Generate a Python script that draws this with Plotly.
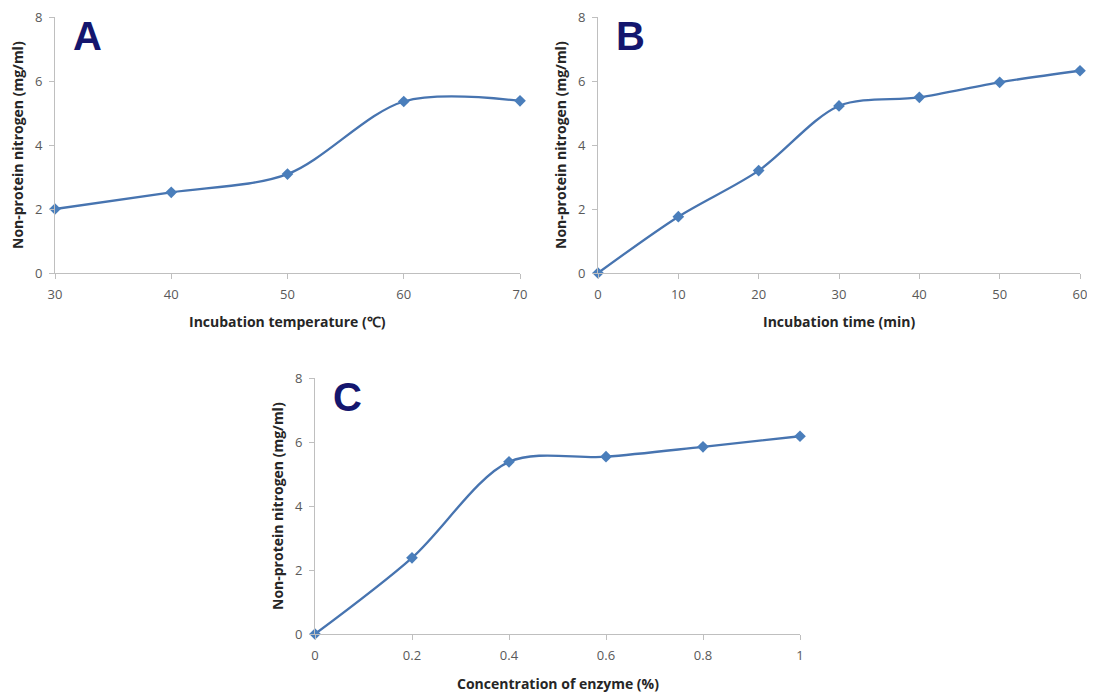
import plotly.graph_objects as go

# Panel A: incubation temperature
temp_c = [30, 40, 50, 60, 70]
npn_temp = [2.0, 2.52, 3.09, 5.36, 5.38]

# Panel B: incubation time
time_min = [0, 10, 20, 30, 40, 50, 60]
npn_time = [0.0, 1.76, 3.2, 5.22, 5.49, 5.96, 6.32]

# Panel C: enzyme concentration
enzyme_pct = [0, 0.2, 0.4, 0.6, 0.8, 1.0]
npn_enzyme = [0.0, 2.38, 5.38, 5.54, 5.85, 6.18]

y_ticks = [0, 2, 4, 6, 8]
x_ticks_a = [30, 40, 50, 60, 70]
x_ticks_b = [0, 10, 20, 30, 40, 50, 60]
x_ticks_c = [0, 0.2, 0.4, 0.6, 0.8, 1]
x_ticktext_c = ["0", "0.2", "0.4", "0.6", "0.8", "1"]
y_title = "Non-protein nitrogen (mg/ml)"
x_titles = ["Incubation temperature (℃)", "Incubation time (min)", "Concentration of enzyme (%)"]
letters = ["A", "B", "C"]

# page body has an 8px default margin: the figure sits at (8, 8) on screen
OFF = 8
W, H = 1095 - OFF, 692 - OFF
LINE = "#4774b0"
MARK = "#4a7ebb"
AXIS = "#bfbfbf"
TICKC = "#595959"
TITLEC = "#262626"

def px(x):
    return (x - OFF) / W

def py(y):
    return 1 - (y - OFF) / H

fig = go.Figure()

series = [
    (temp_c, npn_temp, "x", "y"),
    (time_min, npn_time, "x2", "y2"),
    (enzyme_pct, npn_enzyme, "x3", "y3"),
]
for xs, ys, xa, ya in series:
    fig.add_trace(go.Scatter(
        x=xs, y=ys, xaxis=xa, yaxis=ya, mode="lines+markers",
        line=dict(color=LINE, width=2.3, shape="spline", smoothing=0.9),
        marker=dict(symbol="diamond", size=9, color=MARK),
        cliponaxis=False, showlegend=False,
    ))

font_tick = dict(family="Open Sans, Liberation Sans, sans-serif", size=13, color=TICKC)
font_title = dict(family="Open Sans, Liberation Sans, sans-serif", size=14, color=TITLEC)

def xaxis(domain, rng, tickvals, ticktext, anchor):
    return dict(
        domain=domain, range=rng, anchor=anchor, automargin=False,
        tickmode="array", tickvals=tickvals, ticktext=ticktext,
        showline=True, linecolor=AXIS, linewidth=1,
        ticks="outside", ticklen=5, tickcolor=AXIS, ticklabelstandoff=4,
        ticklabeloverflow="allow",
        showgrid=False, zeroline=False, tickfont=font_tick,
    )

def yaxis(domain, anchor):
    return dict(
        domain=domain, range=[0, 8], anchor=anchor, automargin=False,
        tickmode="array", tickvals=y_ticks,
        showline=True, linecolor=AXIS, linewidth=1,
        ticks="outside", ticklen=5, tickcolor=AXIS, ticklabelstandoff=4,
        ticklabeloverflow="allow",
        showgrid=False, zeroline=False, tickfont=font_tick,
    )

top = (17, 273)
bot = (378, 634)
panels = [
    ((55, 520), top, [30, 70], x_ticks_a, [str(v) for v in x_ticks_a]),
    ((598, 1080), top, [0, 60], x_ticks_b, [str(v) for v in x_ticks_b]),
    ((315, 800), bot, [0, 1], x_ticks_c, x_ticktext_c),
]

layout = dict(width=W, height=H, margin=dict(l=0, r=0, t=0, b=0),
              paper_bgcolor="white", plot_bgcolor="white")
for i, ((x0, x1), (y0, y1), rng, tv, tt) in enumerate(panels):
    sfx = "" if i == 0 else str(i + 1)
    layout["xaxis" + sfx] = xaxis([px(x0), px(x1)], rng, tv, tt, "y" + sfx)
    layout["yaxis" + sfx] = yaxis([py(y1), py(y0)], "x" + sfx)
fig.update_layout(**layout)

letter_font = dict(family="Liberation Sans, Arial, sans-serif", size=40, color="#14166e")
for i, ((x0, x1), (y0, y1), rng, tv, tt) in enumerate(panels):
    fig.add_annotation(text="<b>" + x_titles[i] + "</b>", x=px((x0 + x1) / 2), y=py(y1 + 49),
                       xref="paper", yref="paper", showarrow=False, font=font_title,
                       xanchor="center", yanchor="middle")
    fig.add_annotation(text="<b>" + y_title + "</b>", x=px(x0 - 38), y=py((y0 + y1) / 2),
                       xref="paper", yref="paper", showarrow=False, font=font_title,
                       textangle=-90, xanchor="center", yanchor="middle")
    fig.add_annotation(text="<b>" + letters[i] + "</b>", x=px(x0 + 32), y=py(y0 + 19),
                       xref="paper", yref="paper", showarrow=False, font=letter_font,
                       xanchor="center", yanchor="middle")

fig.write_html("out.html")
